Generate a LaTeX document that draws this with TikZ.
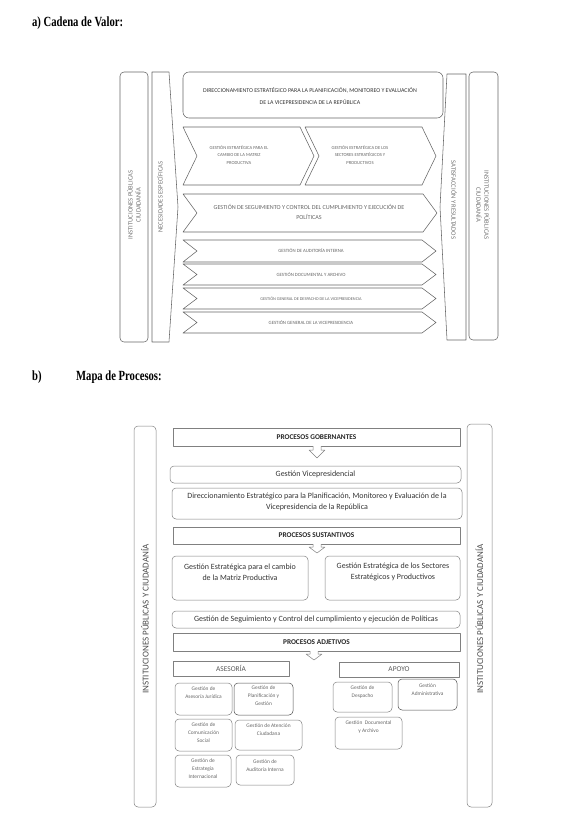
\documentclass[tikz,border=0pt]{standalone}
\usepackage{fontspec}
\setmainfont{Carlito}
\newfontfamily\titlefont{Liberation Serif}
\newcommand\achev[5]{%
  \draw[achevron] (#1,#3) -- (#2,#3) -- ({#2+14},{(#3+#4)/2}) -- (#2,#4) -- (#1,#4) -- ({#1+14},{(#3+#4)/2}) -- cycle;
  \node[atext] (#5) at ({(#1+#2+14)/2},{(#3+#4)/2}) {};}
\begin{document}
\begin{tikzpicture}[x=1pt,y=-1pt,
  line join=round,
  title/.style={font=\titlefont\bfseries\fontsize{14}{15}\selectfont, anchor=west, inner sep=0pt, xscale=0.76},
  aline/.style={draw=black!60, line width=0.55pt},
  achevron/.style={aline, fill=white},
  atext/.style={font=\fontsize{4.8}{6.2}\selectfont, text=black!60, align=center, inner sep=0pt},
  avert/.style={font=\fontsize{6.6}{8}\selectfont, text=black!55, align=center, inner sep=0pt},
  bline/.style={draw=black!50, line width=0.5pt},
  bround/.style={bline, rounded corners=4pt},
  btext/.style={font=\fontsize{8}{11}\selectfont, text=black!80, align=center, inner sep=0pt},
  bhead/.style={font=\bfseries\fontsize{7.3}{8}\selectfont, text=black!85, inner sep=0pt},
  bsub/.style={font=\fontsize{7.4}{8}\selectfont, text=black!65, inner sep=0pt},
  bsmall/.style={font=\fontsize{5.4}{8}\selectfont, text=black!60, align=center, inner sep=0pt, anchor=north},
  bvert/.style={font=\fontsize{9}{10}\selectfont, text=black!70, inner sep=0pt, rotate=90},
  barrow/.style={bline, fill=white}
]
\useasboundingbox (0,0) rectangle (566,836);

% ---------- a) Cadena de Valor ----------
\node[title] (ta) at (32,23) {a) Cadena de Valor:};

\draw[aline, rounded corners=4pt] (120,72) rectangle (148,342);
\node[avert, rotate=90] (ainstl) at (134,205) {INSTITUCIONES PÚBLICAS\\CIUDADANÍA};

\draw[aline] (152,72) -- (169,72) -- (178,207) -- (169,342) -- (152,342) -- cycle;
\node[avert, rotate=90] (anec) at (160,197) {NECESIDADES ESPECÍFICAS};

\draw[aline] (447,74) -- (466,74) -- (466,340) -- (447,340) -- (440,207) -- cycle;
\node[avert, rotate=-90] (asat) at (454,200) {SATISFACCIÓN Y RESULTADOS};

\draw[aline, rounded corners=4pt] (469,72) rectangle (498,340);
\node[avert, rotate=-90] (ainstr) at (483,205) {INSTITUCIONES PÚBLICAS\\CIUDADANÍA};

\draw[aline, rounded corners=6pt] (183,72) rectangle (443,118);
\node[atext, font=\fontsize{5.9}{12}\selectfont, text=black!80] (adir) at (310,96) {DIRECCIONAMIENTO ESTRATÉGICO  PARA LA PLANIFICACIÓN, MONITOREO Y EVALUACIÓN\\DE LA VICEPRESIDENCIA DE LA REPÚBLICA};

\achev{305}{422}{127}{185}{c2}
\achev{183}{300}{127}{185}{c1}
\node[atext, font=\fontsize{4.6}{7.5}\selectfont] (t1) at (239,155) {GESTIÓN ESTRATÉGICA PARA EL\\CAMBIO DE LA MATRIZ\\PRODUCTIVA};
\node[atext, font=\fontsize{4.6}{7.5}\selectfont] (t2) at (360,155) {GESTIÓN ESTRATÉGICA DE LOS\\SECTORES ESTRATÉGICOS Y\\PRODUCTIVOS};

\achev{183}{423}{194}{232}{c3}
\node[atext, font=\fontsize{6.1}{10}\selectfont] (t3) at (309,212) {GESTIÓN DE SEGUIMIENTO Y CONTROL DEL CUMPLIMIENTO Y EJECUCIÓN DE\\POLÍTICAS};

\achev{183}{422}{240}{262}{c4}
\node[atext] (t4) at (311,251) {GESTIÓN DE AUDITORÍA INTERNA};
\achev{183}{422}{264}{285}{c5}
\node[atext] (t5) at (311,274.5) {GESTIÓN DOCUMENTAL Y ARCHIVO};
\achev{183}{422}{288}{309}{c6}
\node[atext, font=\fontsize{4.3}{6}\selectfont] (t6) at (311,298.5) {GESTIÓN GENERAL DE DESPACHO DE LA VICEPRESIDENCIA};
\achev{183}{422}{312}{333}{c7}
\node[atext] (t7) at (311,322.5) {GESTIÓN GENERAL DE LA VICEPRESIDENCIA};

% ---------- b) Mapa de Procesos ----------
\node[title] (tb1) at (32,377) {b)};
\node[title] (tb2) at (76,377) {Mapa de Procesos:};

\draw[bround] (134,426) rectangle (156,807);
\node[bvert] (binstl) at (145,619) {INSTITUCIONES PÚBLICAS Y CIUDADANÍA};
\draw[bround] (467,424) rectangle (492,807);
\node[bvert] (binstr) at (479.5,619) {INSTITUCIONES PÚBLICAS Y CIUDADANÍA};

\draw[bline] (173,428) rectangle (460,446);
\node[bhead] (pg) at (316.5,437) {PROCESOS GOBERNANTES};
\draw[barrow] (313,446) -- (313,450) -- (309,450) -- (317,458) -- (325,450) -- (321,450) -- (321,446);

\draw[bround] (170,466) rectangle (461,483);
\node[btext] (gv) at (315.5,474.5) {Gestión Vicepresidencial};

\draw[bround] (172,488) rectangle (462,519);
\node[btext] (dir) at (317,501.5) {Direccionamiento Estratégico para la Planificación, Monitoreo y Evaluación de la\\Vicepresidencia de la República};

\draw[bline] (173,527) rectangle (460,544);
\node[bhead] (ps) at (316.5,535.5) {PROCESOS SUSTANTIVOS};
\draw[barrow] (313,544) -- (313,547) -- (309,547) -- (317,553) -- (325,547) -- (321,547) -- (321,544);

\draw[bround] (172,556) rectangle (308,600);
\node[btext] (gem) at (240,572) {Gestión Estratégica para el cambio\\de la Matriz Productiva};
\draw[bround] (325,556) rectangle (460,600);
\node[btext] (ges) at (393,572) {Gestión Estratégica de los Sectores\\Estratégicos y Productivos};

\draw[bround] (172,611) rectangle (460,628);
\node[btext] (gsc) at (316,619.5) {Gestión de Seguimiento y Control del cumplimiento y ejecución de Políticas};

\draw[bline] (173,633) rectangle (460,651);
\node[bhead] (pa) at (316.5,642) {PROCESOS ADJETIVOS};
\draw[barrow] (310,651) -- (310,654) -- (306,654) -- (314,660) -- (322,654) -- (318,654) -- (318,651);

\draw[bline] (173,661) rectangle (289,676);
\node[bsub] (ase) at (231,668.5) {ASESORÍA};
\draw[bline] (339,662) rectangle (459,677);
\node[bsub] (apo) at (399,669.5) {APOYO};

\draw[bround] (175,683) rectangle (232,715);
\node[bsmall] (s1) at (203.5,687) {Gestión de\\Asesoría Jurídica};
\draw[bround, draw=black!70] (234,683) rectangle (293,715);
\node[bsmall] (s2) at (263.5,686) {Gestión de\\Planificación y\\Gestión};
\draw[bround] (175,719) rectangle (232,751);
\node[bsmall] (s3) at (203.5,723) {Gestión de\\Comunicación\\Social};
\draw[bround] (235,720) rectangle (302,750);
\node[bsmall] (s4) at (268.5,724) {Gestión de Atención\\Ciudadana};
\draw[bround] (175,755) rectangle (231,787);
\node[bsmall] (s5) at (203,759) {Gestión de\\Estrategia\\Internacional};
\draw[bround] (236,755) rectangle (294,785);
\node[bsmall] (s6) at (265,760) {Gestión de\\Auditoría Interna};

\draw[bround] (333,682) rectangle (392,712);
\node[bsmall] (s7) at (362.5,686) {Gestión de\\Despacho};
\draw[bround, draw=black!70] (398,679) rectangle (457,710);
\node[bsmall] (s8) at (427.5,684) {Gestión\\Administrativa};
\draw[bround] (335,717) rectangle (402,749);
\node[bsmall] (s9) at (368.5,721) {Gestión~ Documental\\y Archivo};
\end{tikzpicture}
\end{document}
